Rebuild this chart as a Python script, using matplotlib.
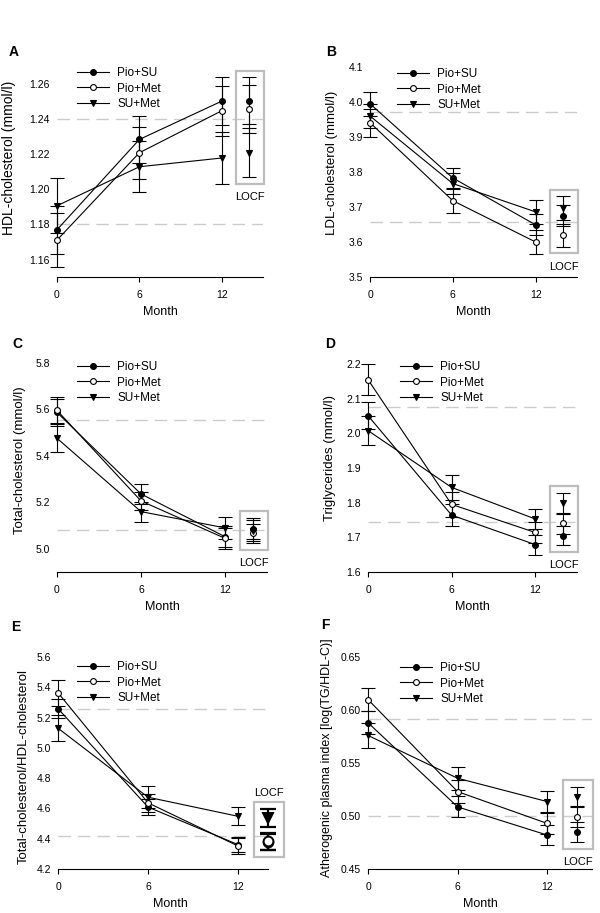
import numpy as np
import matplotlib
matplotlib.use('Agg')
import matplotlib.pyplot as plt
from matplotlib.patches import Rectangle

plt.rcParams['font.family'] = ['Liberation Sans', 'DejaVu Sans']

W, H = 600, 913

MONTHS = [0, 6, 12]
LOCF_X = 14
GROUPS = ['Pio+SU', 'Pio+Met', 'SU+Met']

# rows: Pio+SU, Pio+Met, SU+Met ; cols: 0, 6, 12 months, LOCF
HDL_MEAN = [[1.177, 1.2286, 1.2505, 1.2507],
            [1.1711, 1.221, 1.245, 1.246],
            [1.1907, 1.213, 1.218, 1.221]]
HDL_SEM = [[0.0137, 0.0133, 0.0137, 0.0133],
           [0.0153, 0.0148, 0.0143, 0.0136],
           [0.0156, 0.0145, 0.0147, 0.0140]]
HDL_REF = [1.24, 1.18]
HDL_YLIM = [1.15, 1.27]
HDL_TICKS = [1.16, 1.18, 1.20, 1.22, 1.24, 1.26]

LDL_MEAN = [[3.995, 3.783, 3.649, 3.675],
            [3.941, 3.718, 3.600, 3.619],
            [3.960, 3.767, 3.686, 3.697]]
LDL_SEM = [[0.034, 0.028, 0.030, 0.030],
           [0.040, 0.034, 0.034, 0.032],
           [0.035, 0.030, 0.034, 0.033]]
LDL_REF = [3.971, 3.658]
LDL_YLIM = [3.5, 4.1]
LDL_TICKS = [3.5, 3.6, 3.7, 3.8, 3.9, 4.0, 4.1]

TC_MEAN = [[5.587, 5.236, 5.052, 5.086],
           [5.596, 5.206, 5.045, 5.066],
           [5.476, 5.160, 5.090, 5.078]]
TC_SEM = [[0.060, 0.042, 0.045, 0.045],
          [0.056, 0.040, 0.044, 0.040],
          [0.060, 0.043, 0.048, 0.045]]
TC_REF = [5.555, 5.08]
TC_YLIM = [4.9, 5.8]
TC_TICKS = [5.0, 5.2, 5.4, 5.6, 5.8]

TG_MEAN = [[2.051, 1.764, 1.679, 1.705],
           [2.155, 1.795, 1.714, 1.740],
           [2.008, 1.844, 1.753, 1.798]]
TG_SEM = [[0.038, 0.032, 0.029, 0.028],
          [0.045, 0.035, 0.030, 0.030],
          [0.042, 0.035, 0.030, 0.030]]
TG_REF = [2.076, 1.745]
TG_YLIM = [1.6, 2.2]
TG_TICKS = [1.6, 1.7, 1.8, 1.9, 2.0, 2.1, 2.2]

RATIO_MEAN = [[5.259, 4.609, 4.361, 4.378],
              [5.364, 4.637, 4.352, 4.383],
              [5.130, 4.674, 4.548, 4.535]]
RATIO_SEM = [[0.065, 0.055, 0.050, 0.050],
             [0.087, 0.060, 0.052, 0.055],
             [0.085, 0.073, 0.060, 0.058]]
RATIO_REF = [5.254, 4.418]
RATIO_YLIM = [4.2, 5.6]
RATIO_TICKS = [4.2, 4.4, 4.6, 4.8, 5.0, 5.2, 5.4, 5.6]

AIP_MEAN = [[0.588, 0.5086, 0.482, 0.4851],
            [0.6099, 0.523, 0.493, 0.4992],
            [0.576, 0.5356, 0.5136, 0.518]]
AIP_SEM = [[0.011, 0.010, 0.0094, 0.0094],
           [0.011, 0.011, 0.010, 0.010],
           [0.012, 0.011, 0.010, 0.0097]]
AIP_REF = [0.5917, 0.50]
AIP_YLIM = [0.45, 0.65]
AIP_TICKS = [0.45, 0.50, 0.55, 0.60, 0.65]

# (letter, ylabel, mean, sem, ref, ylim, ticks, tick fmt)
PANELS = [
    ('A', 'HDL-cholesterol (mmol/l)', HDL_MEAN, HDL_SEM, HDL_REF, HDL_YLIM, HDL_TICKS, '%.2f'),
    ('B', 'LDL-cholesterol (mmol/l)', LDL_MEAN, LDL_SEM, LDL_REF, LDL_YLIM, LDL_TICKS, '%.1f'),
    ('C', 'Total-cholesterol (mmol/l)', TC_MEAN, TC_SEM, TC_REF, TC_YLIM, TC_TICKS, '%.1f'),
    ('D', 'Triglycerides (mmol/l)', TG_MEAN, TG_SEM, TG_REF, TG_YLIM, TG_TICKS, '%.1f'),
    ('E', 'Total-cholesterol/HDL-cholesterol', RATIO_MEAN, RATIO_SEM, RATIO_REF, RATIO_YLIM, RATIO_TICKS, '%.1f'),
    ('F', 'Atherogenic plasma index [log(TG/HDL-C)]', AIP_MEAN, AIP_SEM, AIP_REF, AIP_YLIM, AIP_TICKS, '%.2f'),
]

# layout in pixels (left, top, right, bottom) of each axes
AX_PX = [(57, 67, 263, 277), (370, 67, 577, 277),
         (57, 363, 267, 572), (368, 364, 577, 572),
         (58, 657, 283, 869), (368, 657, 592, 869)]
LEG_PX = [(20, 0), (27, 1), (20, -2), (32, -3), (19, 4), (32, 5)]
YLAB_PX = [(9, 158), (332, 163), (20, 460), (330, 458), (24, 766), (327, 758)]
YLAB_SIZE = [10, 9.5, 9.5, 9.5, 9.5, 9]
LETTER_PX = [(14, 52), (331, 52), (17, 344), (330, 344), (16, 627), (325, 625)]
SPINE_END = [15, 15, 15, 15, 14, 15]
LOCF_ABOVE = [False, False, False, False, True, False]
LOCF_BIG = [False, False, False, False, True, False]

MARKERS = [dict(marker='o', mfc='k'),
           dict(marker='o', mfc='white'),
           dict(marker='v', mfc='k')]

fig = plt.figure(figsize=(W / 100, H / 100), dpi=100, facecolor='white')

for p, (letter, ylabel, mean, sem, ref, ylim, ticks, fmt) in enumerate(PANELS):
    l, t, r, b = AX_PX[p]
    ax = fig.add_axes([l / W, 1 - b / H, (r - l) / W, (b - t) / H])
    ax.set_xlim(0, 15)
    ax.set_ylim(*ylim)
    mean = np.asarray(mean)
    sem = np.asarray(sem)

    for v in ref:
        ax.axhline(v, xmin=0, xmax=SPINE_END[p] / 15, color='#cccccc',
                   lw=1.0, dashes=(9, 5), zorder=1)

    big = LOCF_BIG[p]
    handles = []
    for i, g in enumerate(GROUPS):
        eb = ax.errorbar(MONTHS, mean[i, :3], yerr=sem[i, :3], fmt='none',
                         ecolor='k', elinewidth=0.8, capsize=5, capthick=0.8, zorder=2)
        for art in eb.lines[1] + eb.lines[2]:
            art.set_clip_on(False)
        ln, = ax.plot(MONTHS, mean[i, :3], color='k', lw=0.8, ms=4.2,
                      mec='k', mew=0.8, label=g, zorder=3, clip_on=False, **MARKERS[i])
        handles.append(ln)
        eb = ax.errorbar([LOCF_X], [mean[i, 3]], yerr=[sem[i, 3]], fmt='none',
                         ecolor='k', elinewidth=1.6 if big else 0.8,
                         capsize=5.5 if big else 5, capthick=1.6 if big else 0.8,
                         zorder=2)
        for art in eb.lines[1] + eb.lines[2]:
            art.set_clip_on(False)
        ax.plot([LOCF_X], [mean[i, 3]], ls='none', ms=7 if big else 4.2,
                mec='k', mew=1.4 if big else 0.8, zorder=3, clip_on=False,
                **MARKERS[i])

    # LOCF box
    lo = (mean[:, 3] - sem[:, 3]).min()
    hi = (mean[:, 3] + sem[:, 3]).max()
    pad = 0.033 * (ylim[1] - ylim[0])
    ax.add_patch(Rectangle((13.05, lo - pad), 2.0, hi - lo + 2 * pad, fill=False,
                           ec='#bdbdbd', lw=1.6, clip_on=False, zorder=1))
    if LOCF_ABOVE[p]:
        ax.annotate('LOCF', xy=(14.05, hi + pad), xytext=(0, 7), textcoords='offset points',
                    ha='center', va='center', fontsize=8)
    else:
        ax.annotate('LOCF', xy=(14.05, lo - pad), xytext=(0, -9.5), textcoords='offset points',
                    ha='center', va='center', fontsize=8)

    # axes styling
    for s in ['top', 'right', 'left']:
        ax.spines[s].set_visible(False)
    ax.spines['bottom'].set_bounds(0, SPINE_END[p])
    ax.spines['bottom'].set_linewidth(0.8)
    ax.set_xticks(MONTHS)
    ax.set_xticklabels([str(m) for m in MONTHS])
    ax.set_yticks(ticks)
    ax.set_yticklabels([fmt % v for v in ticks])
    ax.tick_params(axis='x', length=3.5, width=0.8, labelsize=7.5, pad=6)
    ax.tick_params(axis='y', length=0, labelsize=7.5, pad=5)
    ax.set_xlabel('Month', fontsize=9, labelpad=4)

    dx, dy = LEG_PX[p]
    ax.legend(handles=handles, loc='upper left',
              bbox_to_anchor=(dx / (r - l), 1 - dy / (b - t)),
              frameon=False, fontsize=8.5, handlelength=2.7, handletextpad=0.7,
              labelspacing=0.3, borderpad=0, borderaxespad=0, numpoints=1)

    yx, yy = YLAB_PX[p]
    fig.text(yx / W, 1 - yy / H, ylabel, rotation=90, ha='center', va='center',
             fontsize=YLAB_SIZE[p])
    lx, ly = LETTER_PX[p]
    fig.text(lx / W, 1 - ly / H, letter, ha='center', va='center',
             fontsize=10, fontweight='bold')

fig.savefig('out.png', dpi=100, facecolor='white')
